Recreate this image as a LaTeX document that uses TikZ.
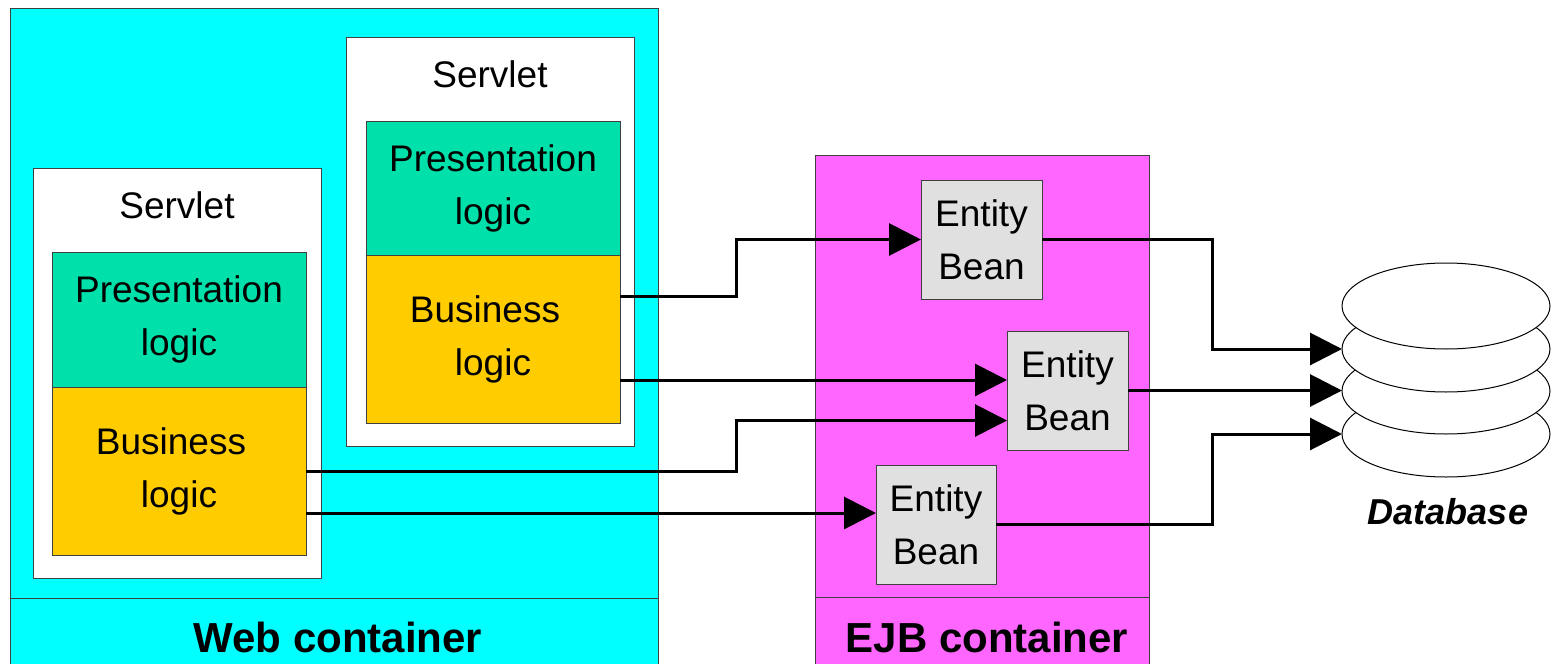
\documentclass[tikz,border=0pt]{standalone}
\usepackage{fontspec}
\setmainfont{Liberation Sans}
\usetikzlibrary{arrows.meta}
\usetikzlibrary{shapes.geometric}
\definecolor{webcyan}{HTML}{00FFFF}
\definecolor{ejbpink}{HTML}{FF66FF}
\definecolor{presgreen}{HTML}{00E0AA}
\definecolor{busiyellow}{HTML}{FFCC00}
\definecolor{beangray}{HTML}{E0E0E0}
\begin{document}
\begin{tikzpicture}[x=1pt,y=-1pt,
  box/.style={draw=black!75,line width=1pt,inner sep=0pt,outer sep=0pt,anchor=north west},
  txt/.style={font=\fontsize{37}{53}\selectfont,align=center},
  big/.style={font=\fontsize{42}{50}\selectfont\bfseries},
  link/.style={line width=3pt,-{Triangle[length=32pt,width=32pt]}},
  disk/.style={ellipse,draw=black,line width=1pt,fill=white,minimum width=208pt,minimum height=86pt,inner sep=0pt,outer sep=0pt}]
\useasboundingbox (0,0) rectangle (1551,664);
% containers
\node[box,fill=webcyan,minimum width=648pt,minimum height=656pt] (web) at (10,8) {};
\draw[black!75,line width=1pt] (10,598) -- (658,598);
\node[big] (weblbl) at (338,637) {Web container};
\node[box,fill=ejbpink,minimum width=334pt,minimum height=509pt] (ejb) at (815,155) {};
\draw[black!75,line width=1pt] (815,597) -- (1149,597);
\node[big] (ejblbl) at (987,637) {EJB container};
% servlets
\node[box,fill=white,minimum width=288pt,minimum height=410pt] (sv1) at (33,168) {};
\node[txt] (sl1) at ([yshift=-37pt]sv1.north) {Servlet};
\node[box,fill=presgreen,minimum width=254pt,minimum height=135pt,txt] (pr1) at (52,252) {Presentation\\logic};
\node[box,fill=busiyellow,minimum width=254pt,minimum height=168pt,txt] (bl1) at (52,387) {Business\hspace*{16pt}\\logic};
\node[box,fill=white,minimum width=288pt,minimum height=409pt] (sv2) at (346,37) {};
\node[txt] (sl2) at ([yshift=-37pt]sv2.north) {Servlet};
\node[box,fill=presgreen,minimum width=254pt,minimum height=134pt,txt] (pr2) at (366,121) {Presentation\\logic};
\node[box,fill=busiyellow,minimum width=254pt,minimum height=168pt,txt] (bl2) at (366,255) {Business\hspace*{16pt}\\logic};
% entity beans
\node[box,fill=beangray,minimum width=121pt,minimum height=119pt,txt] (eb1) at (921,180) {Entity\\Bean};
\node[box,fill=beangray,minimum width=121pt,minimum height=119pt,txt] (eb2) at (1007,331) {Entity\\Bean};
\node[box,fill=beangray,minimum width=120pt,minimum height=119pt,txt] (eb3) at (876,465) {Entity\\Bean};
% database
\node[disk] (db4) at (1446,434) {};
\node[disk] (db3) at (1446,391) {};
\node[disk] (db2) at (1446,349) {};
\node[disk] (db1) at (1446,306) {};
\node[font=\fontsize{36}{44}\selectfont\bfseries\itshape] (dblbl) at (1448,512) {Database};
% connectors
\coordinate (jl) at (736,0);
\coordinate (jr) at (1212,0);
\coordinate (b2a) at ([yshift=43pt]bl2.east);
\coordinate (b2b) at ([yshift=-41pt]bl2.east);
\coordinate (b1b) at ([yshift=-42pt]bl1.east);
\coordinate (e2b) at ([yshift=-30pt]eb2.west);
\draw[link] (b2a) -| (jl |- eb1.west) -- (eb1.west);
\draw[link] (b2b) -- (b2b -| eb2.west);
\draw[link] (bl1.east) -| (jl |- e2b) -- (e2b);
\draw[link] (b1b) -- (b1b -| eb3.west);
\draw[link] (eb1.east) -| (jr |- db2.west) -- (db2.west);
\draw[link] (eb2.east) -- (eb2.east -| db3.west);
\draw[link] (eb3.east) -| (jr |- db4.west) -- (db4.west);
\end{tikzpicture}
\end{document}
